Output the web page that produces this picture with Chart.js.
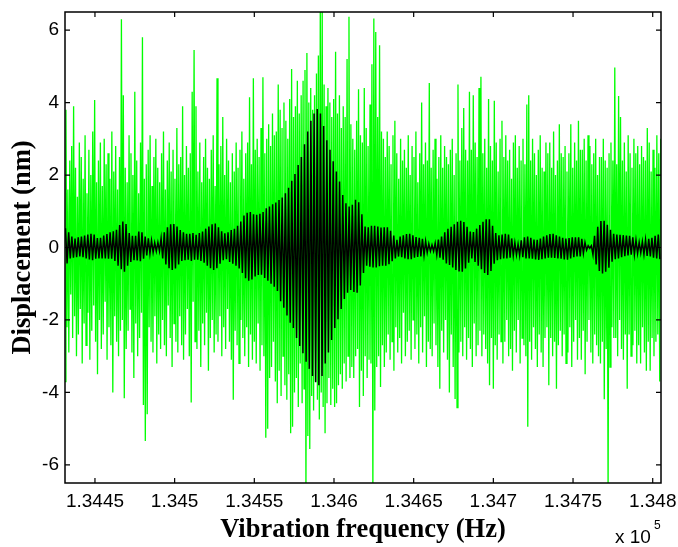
<!DOCTYPE html>
<html><head><meta charset="utf-8">
<script src="https://cdn.jsdelivr.net/npm/chart.js@4/dist/chart.umd.min.js"></script>
<style>html,body{margin:0;padding:0;background:#fff;}canvas{display:block;}</style>
</head><body>
<canvas id="c" width="678" height="547"></canvas>
<script>
// Axis ticks
const xTickValues = [134450,134500,134550,134600,134650,134700,134750,134800];
const xTickLabels = ['1.3445','1.345','1.3455','1.346','1.3465','1.347','1.3475','1.348'];
const yTickValues = [-6,-4,-2,0,2,4,6];
const yTickLabels = ['-6','-4','-2','0','2','4','6'];
const xRange = [134431.2, 134805.2];
const yRange = [-6.5, 6.5];
const xTitle = 'Vibration frequency (Hz)';
const yTitle = 'Displacement (nm)';

// Green series (sampled every 0.6 Hz from 134431.2 Hz)
const greenStart = 134431.2, greenStep = 0.6;
const greenValues = [
-3.7,3.8,-2.2,1.6,-2.9,2.4,-1.3,2.8,-2.5,3.9,-1.9,2.2,-3.0,1.4,-2.4,2.9,-1.7,2.5,-3.2,1.9,
-2.1,3.1,-2.7,1.5,-1.8,2.7,-3.1,2.0,-2.3,3.2,-1.6,4.07,-2.6,1.8,-3.5,2.4,-2.0,2.9,-2.8,1.7,
-2.4,3.0,-1.5,2.3,-3.1,2.6,-2.2,1.9,-2.7,3.2,-4.0,2.1,-1.9,2.8,-2.6,1.6,-3.0,2.5,-2.3,6.3,
-2.0,4.2,-4.16,2.2,-2.8,1.8,-2.3,3.1,-1.7,2.6,-2.9,2.0,-3.6,4.3,-2.1,2.4,-3.0,1.5,-2.5,2.9,
-1.8,5.8,-4.35,1.9,-5.34,2.3,-4.6,2.7,-2.2,3.1,-2.6,1.7,-2.9,2.5,-1.9,3.0,-3.2,2.2,-2.4,1.8,
-2.8,2.6,-2.0,3.2,-2.7,1.6,-3.0,2.4,-1.6,2.9,-2.5,2.1,-3.3,2.7,-2.1,1.9,-2.6,3.3,-2.9,2.3,
-1.9,2.5,-2.7,3.9,-3.1,2.0,-2.4,2.8,-1.7,2.2,-3.0,2.6,-4.28,4.3,-1.5,5.45,-2.6,3.9,-2.8,2.1,
-2.3,2.9,-3.3,1.8,-2.1,2.5,-2.7,3.0,-1.8,2.2,-3.4,1.9,-2.5,2.7,-2.0,3.1,-2.9,1.7,-2.4,4.67,
-2.6,2.3,-1.9,2.8,-3.0,3.6,-2.2,2.0,-2.8,3.0,-1.7,2.4,-2.6,1.8,-3.1,2.6,-4.2,2.1,-2.3,2.9,
-2.7,2.2,-3.2,2.7,-2.0,3.2,-2.5,1.9,-3.0,2.6,-2.2,2.9,-3.3,4.15,-2.4,2.3,-3.1,4.67,-2.6,2.7,
-3.2,3.0,-2.1,2.5,-3.4,3.3,-2.7,4.7,-3.0,2.6,-5.25,3.0,-5.0,3.4,-3.6,2.8,-3.3,3.7,-2.6,3.1,
-3.7,3.2,-4.3,4.5,-3.4,3.8,-4.1,3.3,-3.0,4.0,-3.8,3.5,-4.2,3.0,-3.5,4.1,-5.13,4.93,-4.95,3.6,
-4.0,3.9,-3.6,4.6,-4.4,3.7,-3.2,4.2,-4.3,4.6,-3.9,4.9,-6.8,5.37,-5.2,4.0,-5.56,4.4,-4.1,3.8,
-4.5,4.2,-3.7,4.8,-4.2,5.3,-4.75,6.8,-4.0,6.7,-4.4,4.5,-5.13,3.9,-4.3,4.4,-3.6,4.0,-4.35,3.6,
-3.9,4.1,-4.4,5.4,-4.3,3.7,-3.8,4.2,-3.5,3.3,-3.9,3.9,-3.2,3.6,-3.7,5.2,-3.0,6.37,-3.6,3.4,
-3.3,3.0,-3.6,2.7,-3.0,3.5,-2.8,4.37,-4.4,3.1,-3.4,2.9,-4.1,4.4,-3.0,3.3,-3.6,2.8,-3.1,3.95,
-3.2,5.06,-6.8,6.32,-4.5,5.95,-3.3,3.6,-3.0,5.58,-3.85,3.2,-2.7,3.0,-3.3,2.5,-2.9,3.2,-2.4,2.8,
-3.1,2.3,-2.6,3.1,-3.4,3.5,-2.2,2.6,-2.9,1.9,-2.5,3.0,-3.2,2.4,-1.8,2.7,-3.0,2.2,-2.6,3.1,
-2.3,2.0,-3.1,2.8,-2.0,2.5,-2.8,3.2,-2.4,1.8,-3.2,2.6,-2.2,4.0,-2.9,2.3,-1.9,2.9,-3.3,2.4,
-2.6,4.54,-2.8,2.2,-3.0,2.7,-2.1,3.0,-2.7,1.9,-3.3,2.5,-3.9,3.1,-2.3,2.2,-2.9,2.8,-2.0,2.5,
-3.1,2.3,-4.0,2.7,-2.4,3.0,-3.3,2.0,-4.18,2.6,-4.42,4.5,-2.9,2.4,-2.6,3.3,-3.0,3.85,-2.2,2.7,
-3.1,2.4,-2.5,4.3,-2.8,2.7,-3.3,4.2,-2.1,2.9,-3.0,2.5,-2.7,4.4,-2.3,4.71,-3.0,2.6,-2.4,3.0,
-2.8,2.2,-3.2,4.1,-3.8,2.8,-2.5,2.4,-3.9,4.05,-2.7,2.9,-3.1,2.1,-2.4,3.0,-2.6,3.5,-3.2,2.5,
-2.6,3.1,-2.0,2.4,-3.0,2.7,-2.8,1.9,-3.4,2.9,-2.3,3.1,-2.9,2.2,-2.0,2.8,-3.2,2.4,-2.5,3.0,
-2.7,2.3,-3.0,3.95,-4.95,4.2,-2.6,2.4,-3.1,3.0,-2.2,2.6,-2.8,2.0,-3.3,2.7,-2.4,3.1,-2.9,2.2,
-3.3,2.1,-2.5,2.9,-2.2,2.6,-3.8,2.9,-2.5,2.2,-3.0,3.2,-2.6,2.0,-3.9,2.4,-2.7,3.4,-2.3,2.6,
-3.0,2.5,-2.4,2.8,-3.2,2.1,-2.9,2.6,-2.2,3.4,-3.3,2.2,-2.6,2.9,-2.0,2.4,-3.1,3.5,-2.5,2.7,
-3.1,2.7,-2.3,3.0,-3.5,2.4,-2.6,3.1,-2.0,2.8,-2.9,2.3,-3.2,2.6,-2.4,3.0,-2.7,2.0,-3.0,2.5,
-3.2,2.5,-2.6,3.0,-4.19,2.4,-2.8,2.2,-6.8,2.6,-3.3,2.9,-2.2,2.4,-2.5,4.97,-2.5,2.3,-3.0,4.18,
-2.0,3.6,-2.8,2.4,-3.1,2.9,-2.4,2.1,-3.9,3.1,-2.4,2.6,-3.0,2.2,-2.7,3.0,-2.3,2.6,-3.2,2.8,
-2.7,2.3,-3.2,2.8,-2.2,2.5,-2.9,2.4,-3.4,3.3,-2.6,2.9,-3.4,2.1,-2.5,2.7,-3.0,2.2,-2.6,3.1,
-2.4,2.6,-3.7,3.0
];

// Black series (sampled every 1.0 Hz from 134431.5 Hz)
const blackStart = 134431.5, blackStep = 1.0;
const blackValues = [
0.53,-0.44,0.42,-0.3,0.3,-0.28,0.25,-0.27,0.28,-0.25,
0.3,-0.27,0.33,-0.3,0.36,-0.33,0.38,-0.35,0.36,-0.31,
0.26,-0.3,0.27,-0.3,0.33,-0.3,0.37,-0.31,0.42,-0.31,
0.45,-0.37,0.49,-0.5,0.62,-0.6,0.72,-0.67,0.65,-0.5,
0.4,-0.4,0.32,-0.35,0.32,-0.36,0.44,-0.38,0.42,-0.31,
0.3,-0.22,0.25,-0.17,0.19,-0.13,0.13,-0.1,0.14,-0.1,
0.25,-0.3,0.42,-0.47,0.56,-0.57,0.64,-0.62,0.65,-0.58,
0.58,-0.47,0.48,-0.37,0.42,-0.35,0.38,-0.34,0.38,-0.37,
0.4,-0.34,0.35,-0.34,0.4,-0.37,0.44,-0.42,0.52,-0.5,
0.58,-0.57,0.64,-0.62,0.66,-0.57,0.56,-0.45,0.45,-0.35,
0.39,-0.32,0.42,-0.4,0.48,-0.45,0.52,-0.5,0.6,-0.58,
0.72,-0.7,0.88,-0.85,0.96,-0.92,0.98,-0.88,0.92,-0.8,
0.9,-0.76,0.93,-0.75,0.98,-0.84,1.08,-0.92,1.13,-1.0,
1.19,-1.08,1.24,-1.2,1.31,-1.48,1.38,-1.66,1.5,-1.88,
1.65,-2.08,1.84,-2.22,2.03,-2.5,2.28,-2.72,2.5,-2.92,
2.85,-3.15,3.2,-3.35,3.5,-3.55,3.7,-3.72,3.82,-3.8,
3.7,-3.55,3.35,-3.2,2.96,-2.9,2.7,-2.55,2.38,-2.22,
2.1,-1.98,1.82,-1.7,1.45,-1.42,1.22,-1.25,1.13,-1.17,
1.18,-1.23,1.32,-1.25,1.25,-1.05,0.92,-0.7,0.58,-0.5,
0.56,-0.53,0.6,-0.55,0.6,-0.55,0.58,-0.52,0.55,-0.5,
0.56,-0.5,0.56,-0.46,0.46,-0.38,0.33,-0.3,0.21,-0.25,
0.3,-0.27,0.34,-0.3,0.37,-0.32,0.38,-0.32,0.34,-0.28,
0.29,-0.26,0.27,-0.25,0.24,-0.21,0.17,-0.14,0.1,-0.1,
0.07,-0.1,0.12,-0.2,0.22,-0.28,0.3,-0.34,0.42,-0.44,
0.52,-0.48,0.57,-0.55,0.64,-0.62,0.71,-0.66,0.74,-0.67,
0.7,-0.58,0.57,-0.42,0.44,-0.3,0.43,-0.4,0.52,-0.5,
0.62,-0.6,0.71,-0.7,0.78,-0.76,0.78,-0.65,0.6,-0.45,
0.4,-0.35,0.34,-0.32,0.36,-0.3,0.38,-0.3,0.36,-0.28,
0.25,-0.22,0.13,-0.2,0.09,-0.22,0.2,-0.27,0.28,-0.3,
0.3,-0.3,0.27,-0.31,0.22,-0.33,0.21,-0.34,0.25,-0.32,
0.3,-0.3,0.34,-0.28,0.37,-0.28,0.38,-0.29,0.34,-0.3,
0.3,-0.31,0.27,-0.33,0.25,-0.34,0.26,-0.3,0.28,-0.27,
0.28,-0.25,0.28,-0.25,0.24,-0.16,0.14,-0.07,0.05,-0.02,
0.05,-0.2,0.32,-0.47,0.57,-0.65,0.73,-0.72,0.74,-0.67,
0.63,-0.56,0.49,-0.39,0.38,-0.32,0.36,-0.3,0.35,-0.27,
0.34,-0.24,0.33,-0.22,0.32,-0.2,0.28,-0.19,0.2,-0.16,
0.14,-0.15,0.16,-0.19,0.21,-0.23,0.24,-0.25,0.27,-0.28,
0.32,-0.3,0.36,-0.32
];

const greenPoints = greenValues.map((v,i)=>({x: greenStart + i*greenStep, y: v}));
const blackPoints = blackValues.map((v,i)=>({x: blackStart + i*blackStep, y: v}));

const framePlugin = {
  id: 'frame',
  afterDatasetsDraw(chart){
    const {ctx, chartArea:a, scales:{x, y}} = chart;
    ctx.save();
    ctx.strokeStyle = '#000';
    ctx.lineWidth = 1.5;
    ctx.strokeRect(a.left, a.top, a.right - a.left, a.bottom - a.top);
    ctx.lineWidth = 1.2;
    ctx.beginPath();
    const tl = 5;
    xTickValues.forEach(v => {
      const px = x.getPixelForValue(v);
      ctx.moveTo(px, a.bottom); ctx.lineTo(px, a.bottom - tl);
      ctx.moveTo(px, a.top); ctx.lineTo(px, a.top + tl);
    });
    yTickValues.forEach(v => {
      const py = y.getPixelForValue(v);
      ctx.moveTo(a.left, py); ctx.lineTo(a.left + tl, py);
      ctx.moveTo(a.right, py); ctx.lineTo(a.right - tl, py);
    });
    ctx.stroke();
    ctx.fillStyle = '#000';
    ctx.textBaseline = 'alphabetic';
    ctx.textAlign = 'left';
    ctx.font = '19px "Liberation Sans", Arial, sans-serif';
    ctx.fillText('x 10', 615, 543);
    ctx.font = '12px "Liberation Sans", Arial, sans-serif';
    ctx.fillText('5', 654, 529);
    ctx.restore();
  }
};

new Chart(document.getElementById('c'), {
  type: 'line',
  data: {
    datasets: [
      { label: 'response', data: blackPoints, borderColor: '#000000', borderWidth: 1.5, pointRadius: 0, tension: 0, order: 0, parsing: false },
      { label: 'noise', data: greenPoints, borderColor: '#00ff00', borderWidth: 1.3, pointRadius: 0, tension: 0, order: 1, parsing: false }
    ]
  },
  options: {
    responsive: false,
    animation: false,
    events: [],
    layout: { padding: { top: 12, right: 17, left: 0, bottom: 0 } },
    plugins: { legend: { display: false }, tooltip: { enabled: false } },
    scales: {
      x: {
        type: 'linear',
        min: xRange[0], max: xRange[1],
        grid: { display: false, drawTicks: false },
        border: { display: false },
        afterFit(s){ s.height = 64; s.paddingLeft = 0; s.paddingRight = 0; },
        afterBuildTicks(s){ s.ticks = xTickValues.map(v => ({value: v})); },
        ticks: {
          padding: 7,
          autoSkip: false,
          maxRotation: 0,
          color: '#000',
          font: { family: '"Liberation Sans", Arial, sans-serif', size: 19 },
          callback: (v) => { const k = xTickValues.indexOf(v); return k >= 0 ? xTickLabels[k] : ''; }
        },
        title: {
          display: true, text: xTitle, color: '#000',
          font: { family: '"Liberation Serif", "Times New Roman", serif', size: 26.5, weight: 'bold' },
          padding: { top: 0, bottom: 1 }
        }
      },
      y: {
        type: 'linear',
        min: yRange[0], max: yRange[1],
        grid: { display: false, drawTicks: false },
        border: { display: false },
        afterFit(s){ s.width = 65; s.paddingTop = 0; s.paddingBottom = 0; },
        afterBuildTicks(s){ s.ticks = yTickValues.map(v => ({value: v})); },
        ticks: {
          padding: 6,
          autoSkip: false,
          color: '#000',
          font: { family: '"Liberation Sans", Arial, sans-serif', size: 19 },
          callback: (v) => { const k = yTickValues.indexOf(v); return k >= 0 ? yTickLabels[k] : ''; }
        },
        title: {
          display: true, text: yTitle, color: '#000',
          font: { family: '"Liberation Serif", "Times New Roman", serif', size: 26.5, weight: 'bold' },
          padding: { top: 7, bottom: 0 }
        }
      }
    }
  },
  plugins: [framePlugin]
});
</script>
</body></html>
